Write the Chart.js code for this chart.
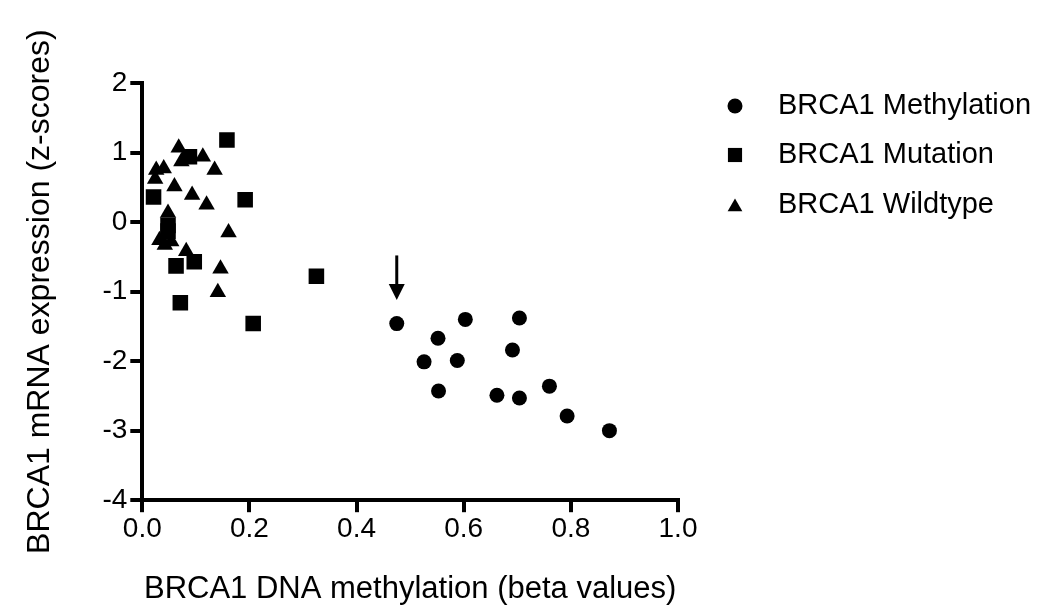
<!DOCTYPE html>
<html>
<head>
<meta charset="utf-8">
<script src="https://cdn.jsdelivr.net/npm/chart.js@4.4.1/dist/chart.umd.min.js"></script>
<style>
  html, body { margin: 0; padding: 0; background: #fff; }
  #c { display: block; }
</style>
</head>
<body>
<canvas id="c" width="1050" height="614"></canvas>
<script>
// BRCA1 methylation vs expression
const methX = [0.475, 0.552, 0.603, 0.704, 0.526, 0.588, 0.691, 0.553, 0.662, 0.704, 0.760, 0.793, 0.872];
const methY = [-1.46, -1.67, -1.40, -1.38, -2.01, -1.99, -1.84, -2.43, -2.49, -2.53, -2.36, -2.79, -3.00];

const mutX = [0.158, 0.088, 0.021, 0.192, 0.048, 0.048, 0.063, 0.097, 0.071, 0.207, 0.325];
const mutY = [1.18, 0.94, 0.36, 0.32, -0.05, -0.13, -0.63, -0.57, -1.16, -1.46, -0.78];

const wildX = [0.068, 0.073, 0.113, 0.135, 0.026, 0.040, 0.024, 0.060, 0.093, 0.120, 0.048, 0.161, 0.032, 0.054, 0.042, 0.082, 0.146, 0.141];
const wildY = [1.07, 0.87, 0.94, 0.75, 0.75, 0.77, 0.62, 0.51, 0.39, 0.25, 0.13, -0.15, -0.26, -0.28, -0.33, -0.42, -0.67, -1.01];

const seriesNames = ["BRCA1 Methylation", "BRCA1 Mutation", "BRCA1 Wildtype"];
const xTicks = [0.0, 0.2, 0.4, 0.6, 0.8, 1.0];
const yTicks = [-4, -3, -2, -1, 0, 1, 2];

// arrow marking the first methylated sample: [x, from y, to y]
const arrowAt = [0.475, -0.48, -1.12];

const FONT = "'Liberation Sans', Arial, Helvetica, sans-serif";

const toPoints = (xs, ys) => xs.map((x, i) => ({ x: x, y: ys[i] }));

// marker sizes per point style
const markerSize = { circle: 7.5, rect: 11, triangle: 9.5 };

// legend drawn GraphPad style (marker + text at the right)
const legendPlugin = {
  id: 'gpLegend',
  afterDraw(chart) {
    const ctx = chart.ctx;
    ctx.save();
    ctx.fillStyle = '#000';
    ctx.strokeStyle = '#000';
    ctx.font = "29px " + FONT;
    ctx.textBaseline = 'middle';
    ctx.textAlign = 'left';
    const rows = [106, 155, 205];
    chart.data.datasets.forEach((ds, i) => {
      const y = rows[i];
      const r = ds.pointStyle === 'triangle' ? 8.5 : (ds.pointStyle === 'rect' ? 10 : 7.5);
      Chart.helpers.drawPoint(ctx, { pointStyle: ds.pointStyle, radius: r, rotation: 0, borderWidth: 0 }, 735, ds.pointStyle === 'triangle' ? y + 2 : y);
      ctx.fillText(ds.label, 778, y);
    });
    ctx.restore();
  }
};

// downward arrow placed through the scales
const arrowPlugin = {
  id: 'gpArrow',
  afterDatasetsDraw(chart) {
    const { ctx, scales: { x, y } } = chart;
    const px = x.getPixelForValue(arrowAt[0]);
    const top = y.getPixelForValue(arrowAt[1]);
    const tip = y.getPixelForValue(arrowAt[2]);
    ctx.save();
    ctx.strokeStyle = '#000';
    ctx.fillStyle = '#000';
    ctx.lineWidth = 3;
    ctx.beginPath();
    ctx.moveTo(px, top);
    ctx.lineTo(px, tip - 14);
    ctx.stroke();
    ctx.beginPath();
    ctx.moveTo(px - 8, tip - 16);
    ctx.lineTo(px + 8, tip - 16);
    ctx.lineTo(px, tip);
    ctx.closePath();
    ctx.fill();
    ctx.restore();
  }
};

const axisGrid = {
  display: true,
  drawOnChartArea: false,
  drawTicks: true,
  tickLength: 12,
  tickWidth: 4,
  tickColor: '#000',
  lineWidth: 4,
  color: '#000'
};

new Chart(document.getElementById('c'), {
  type: 'scatter',
  data: {
    datasets: [
      {
        label: seriesNames[0],
        data: toPoints(methX, methY),
        pointStyle: 'circle',
        pointRadius: markerSize.circle,
        backgroundColor: '#000',
        borderColor: '#000',
        pointBorderWidth: 0
      },
      {
        label: seriesNames[1],
        data: toPoints(mutX, mutY),
        pointStyle: 'rect',
        pointRadius: markerSize.rect,
        backgroundColor: '#000',
        borderColor: '#000',
        pointBorderWidth: 0
      },
      {
        label: seriesNames[2],
        data: toPoints(wildX, wildY),
        pointStyle: 'triangle',
        pointRadius: markerSize.triangle,
        backgroundColor: '#000',
        borderColor: '#000',
        pointBorderWidth: 0
      }
    ]
  },
  options: {
    responsive: false,
    animation: false,
    devicePixelRatio: 1,
    layout: { padding: { top: 83, right: 372, bottom: 6, left: 21 } },
    plugins: {
      legend: { display: false },
      tooltip: { enabled: false }
    },
    scales: {
      x: {
        type: 'linear',
        min: xTicks[0],
        max: xTicks[xTicks.length - 1],
        afterBuildTicks: (s) => { s.ticks = xTicks.map(v => ({ value: v })); },
        ticks: {
          color: '#000',
          font: { family: FONT, size: 28 },
          padding: 0,
          callback: (v) => Number(v).toFixed(1)
        },
        grid: axisGrid,
        border: { display: true, width: 4, color: '#000' },
        title: {
          display: true,
          text: 'BRCA1 DNA methylation (beta values)',
          color: '#000',
          font: { family: FONT, size: 31 },
          padding: { top: 25, bottom: 0 }
        }
      },
      y: {
        type: 'linear',
        min: yTicks[0],
        max: yTicks[yTicks.length - 1],
        afterBuildTicks: (s) => { s.ticks = yTicks.map(v => ({ value: v })); },
        ticks: {
          color: '#000',
          font: { family: FONT, size: 28 },
          padding: 3
        },
        grid: axisGrid,
        border: { display: true, width: 4, color: '#000' },
        title: {
          display: true,
          text: 'BRCA1 mRNA expression (z-scores)',
          color: '#000',
          font: { family: FONT, size: 32 },
          padding: { top: 0, bottom: 40 }
        }
      }
    }
  },
  plugins: [arrowPlugin, legendPlugin]
});
</script>
</body>
</html>
